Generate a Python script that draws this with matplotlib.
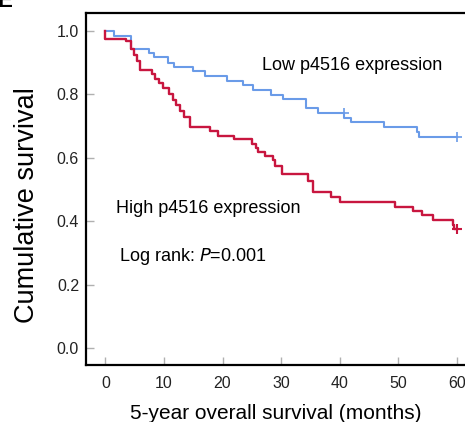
"""Kaplan-Meier curves, p4516 expression (panel E)."""
import matplotlib

matplotlib.use("Agg")
import matplotlib.pyplot as plt

plt.rcParams["font.family"] = ["Liberation Sans", "DejaVu Sans"]

# ---- data
low_months = [0, 1.4, 4.4, 7.5, 8.3, 10.7, 11.7, 15.0, 17.0, 20.8, 23.5, 25.2, 28.2,
              30.3, 34.3, 36.3, 40.8, 41.9, 47.5, 53.2, 53.5, 60]
low_surv = [1.0, 0.986, 0.945, 0.931, 0.917, 0.901, 0.887, 0.873, 0.859, 0.842, 0.829,
            0.814, 0.799, 0.785, 0.757, 0.742, 0.727, 0.712, 0.697, 0.683, 0.667, 0.667]
low_censor_months = [40.7, 60]
low_censor_surv = [0.742, 0.667]

high_months = [0, 0, 3.5, 4.4, 4.9, 5.4, 5.9, 7.9, 8.5, 9.1, 9.8, 10.8, 11.5, 12.0, 12.8,
               13.4, 14.5, 17.9, 19.3, 21.9, 25.0, 25.8, 26.0, 27.3, 28.6, 29.0, 30.2,
               34.6, 35.5, 38.6, 40.1, 49.5, 52.6, 54.0, 56.0, 59.3, 59.6, 60]
high_surv = [1.0, 0.976, 0.968, 0.945, 0.924, 0.905, 0.877, 0.865, 0.848, 0.835, 0.819,
             0.803, 0.782, 0.768, 0.747, 0.729, 0.697, 0.686, 0.670, 0.659, 0.645, 0.631,
             0.618, 0.606, 0.592, 0.573, 0.550, 0.528, 0.491, 0.476, 0.460, 0.446, 0.433,
             0.420, 0.404, 0.389, 0.375, 0.375]
high_censor_months = [60]
high_censor_surv = [0.375]

x_ticks = [0, 10, 20, 30, 40, 50, 60]
y_ticks = [0.0, 0.2, 0.4, 0.6, 0.8, 1.0]

BLUE = "#6a9be8"
RED = "#c8163f"

fig = plt.figure(figsize=(4.65, 4.22), dpi=100)
ax = fig.add_axes([0.185, 0.135, 0.815, 0.834])

ax.step(low_months, low_surv, where="post", color=BLUE, lw=1.5)
ax.step(high_months, high_surv, where="post", color=RED, lw=1.7)
ax.plot(low_censor_months, low_censor_surv, "+", color=BLUE, ms=7, mew=1.2)
ax.plot(high_censor_months, high_censor_surv, "+", color=RED, ms=7, mew=1.5)

ax.text(26.7, 0.89, "Low p4516 expression", fontsize=13, va="center", ha="left")
ax.text(1.9, 0.44, "High p4516 expression", fontsize=13, va="center", ha="left")
ax.text(2.4, 0.29, "Log rank: $\\it{P}$=0.001", fontsize=13, va="center", ha="left")

ax.set_xlim(-3.3, 61.4)
ax.set_ylim(-0.054, 1.057)
ax.set_xticks(x_ticks)
ax.set_yticks(y_ticks)
ax.set_yticklabels([f"{v:.1f}" for v in y_ticks])
ax.tick_params(direction="in", color="#b0b0b0", length=6, width=1,
               labelsize=11.5, labelcolor="#222222")
ax.tick_params(axis="x", pad=8)
ax.tick_params(axis="y", pad=5)
ax.spines["right"].set_visible(False)
for side in ("left", "bottom", "top"):
    ax.spines[side].set_linewidth(1.6)

# SPSS puts the y title a bit below the middle of the axis
ax.set_ylabel("Cumulative survival", fontsize=19.5, va="center")
ax.yaxis.set_label_coords(-0.156, 0.455)
ax.set_xlabel("5-year overall survival (months)", fontsize=15, labelpad=9)

fig.text(-0.005, 0.983, "E", fontsize=16, fontweight="bold", va="baseline", ha="left")

fig.savefig("out.png", dpi=100)
